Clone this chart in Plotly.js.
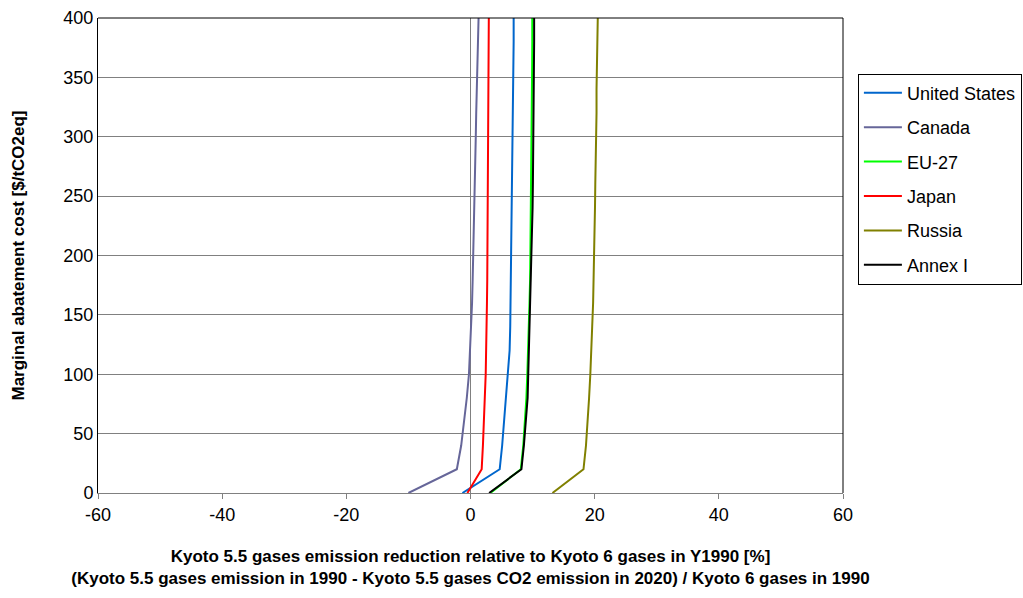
<!DOCTYPE html>
<html>
<head>
<meta charset="utf-8">
<script src="https://cdn.plot.ly/plotly-3.0.1.min.js"></script>
<style>html,body{margin:0;padding:0;background:#fff;}#chart{width:1023px;height:598px;}</style>
</head>
<body>
<div id="chart"></div>
<script>
var cost = [0,20,40,60,80,100,120,140,160,180,200,220,240,260,280,300,320,340,360,380,400];
var unitedStates = [-1.3,4.7,5.1,5.4,5.75,6.1,6.3,6.4,6.45,6.5,6.55,6.6,6.65,6.72,6.78,6.8,6.85,6.9,6.93,6.95,6.95];
var canada = [-10.0,-2.2,-1.5,-1.0,-0.6,-0.25,-0.05,0.15,0.25,0.35,0.45,0.55,0.65,0.72,0.8,0.85,0.92,1.0,1.1,1.25,1.3];
var eu27 = [3.2,8.1,8.5,8.8,9.0,9.15,9.3,9.4,9.5,9.6,9.65,9.7,9.75,9.8,9.85,9.9,9.9,9.92,9.93,9.95,9.95];
var japan = [-0.5,1.8,2.0,2.1,2.3,2.45,2.55,2.6,2.65,2.7,2.72,2.75,2.8,2.85,2.9,2.93,2.93,2.94,2.95,2.95,2.95];
var russia = [13.2,18.2,18.6,18.9,19.1,19.3,19.5,19.6,19.75,19.85,19.9,20.0,20.05,20.1,20.2,20.25,20.3,20.3,20.35,20.45,20.5];
var annexI = [3.0,8.2,8.6,8.9,9.2,9.3,9.4,9.6,9.7,9.8,9.85,9.9,10.0,10.05,10.1,10.15,10.2,10.2,10.22,10.25,10.25];

var seriesNames = ["United States","Canada","EU-27","Japan","Russia","Annex I"];
var seriesData = [unitedStates, canada, eu27, japan, russia, annexI];
var seriesColors = ["#0066CC","#666699","#00FF00","#FF0000","#808000","#000000"];

var xTicks = [-60,-40,-20,0,20,40,60];
var yTicks = [0,50,100,150,200,250,300,350,400];

var traces = seriesNames.map(function(n,i){
  return {x: seriesData[i], y: cost, name: n, type: 'scatter', mode: 'lines',
    line: {color: seriesColors[i], width: 2}, legendgroup: 'g'+i};
});

var layout = {
  width: 1023, height: 598,
  margin: {l: 98, r: 180, t: 18, b: 105, autoexpand: false},
  paper_bgcolor: '#fff', plot_bgcolor: '#fff',
  font: {family: 'Liberation Sans, Arial, sans-serif', size: 18, color: '#000'},
  showlegend: true,
  legend: {x: 1.02, xanchor: 'left', y: 0.883, yanchor: 'top',
    bordercolor: '#000', borderwidth: 1, bgcolor: '#fff', itemwidth: 38,
    font: {size: 18, color: '#000'}, tracegroupgap: 8, traceorder: 'grouped'},
  xaxis: {range: [-60,60], tickvals: xTicks, ticktext: xTicks.map(String),
    showgrid: false, zeroline: true, zerolinecolor: '#808080', zerolinewidth: 1,
    showline: true, linecolor: '#808080', linewidth: 1,
    ticks: 'outside', ticklen: 5, tickcolor: '#808080',
    tickfont: {size: 18}, fixedrange: true,
    title: {text: '<b>Kyoto 5.5 gases emission reduction relative to Kyoto 6 gases in Y1990 [%]</b><br><b>(Kyoto 5.5 gases emission in 1990 - Kyoto 5.5 gases CO2 emission in 2020) / Kyoto 6 gases in 1990</b>',
      font: {size: 17}, standoff: 26}},
  yaxis: {range: [0,400], tickvals: yTicks, ticktext: yTicks.map(String),
    showgrid: true, gridcolor: '#808080', gridwidth: 1, zeroline: false,
    showline: true, linecolor: '#000', linewidth: 1, ticks: '',
    tickfont: {size: 18}, fixedrange: true,
    title: {text: '<b>Marginal abatement cost [$/tCO2eq]</b>', font: {size: 17}, standoff: 34}},
  shapes: [
    {type: 'line', xref: 'paper', yref: 'paper', x0: 0, x1: 1, y0: 1, y1: 1, line: {color: '#000', width: 1}},
    {type: 'line', xref: 'paper', yref: 'paper', x0: 1, x1: 1, y0: 0, y1: 1, line: {color: '#000', width: 1}}
  ]
};

Plotly.newPlot('chart', traces, layout, {displayModeBar: false, staticPlot: true});
</script>
</body>
</html>
